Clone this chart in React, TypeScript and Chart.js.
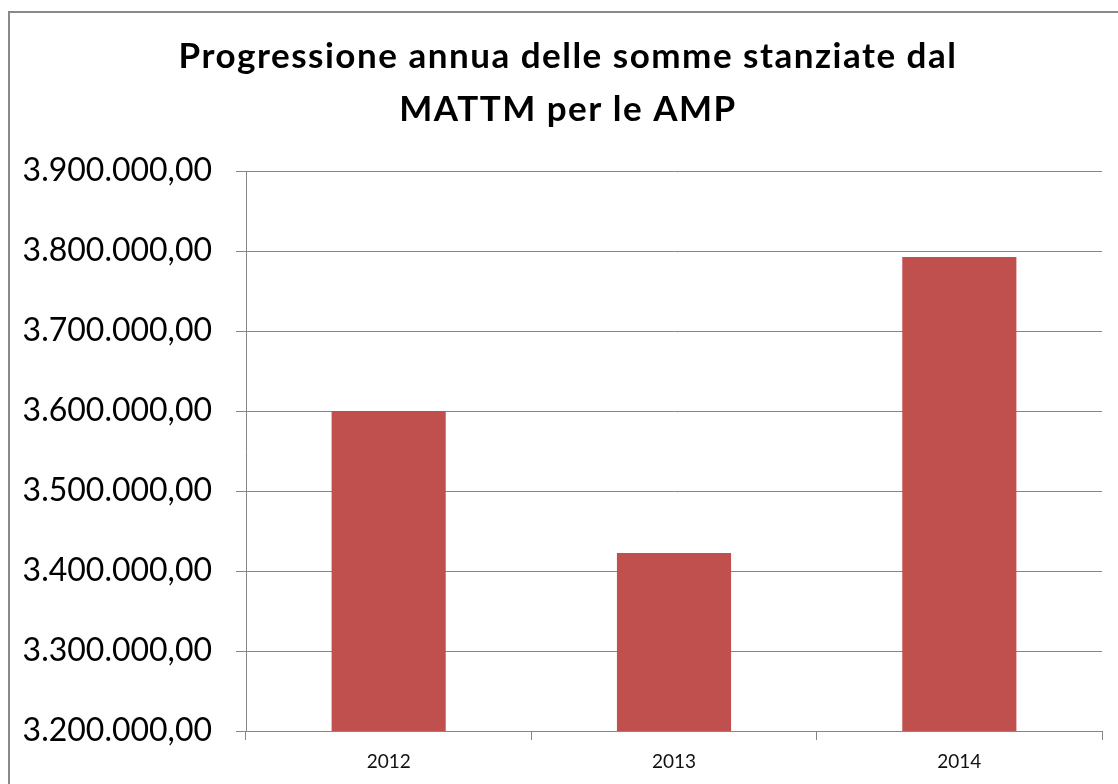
import React, { useEffect, useRef } from "react";
import { Chart, registerables } from "chart.js";

Chart.register(...registerables);

const titleLines = ["Progressione annua delle somme stanziate dal", "MATTM per le AMP"];
const categories = ["2012", "2013", "2014"];
const amounts = [3600000, 3422500, 3792500];
const yMin = 3200000;
const yMax = 3900000;
const yStep = 100000;

function formatIt(v: number): string {
  const intPart = Math.round(v).toString().replace(/\B(?=(\d{3})+(?!\d))/g, ".");
  return intPart + ",00";
}

const titlePlugin = {
  id: "customTitle",
  afterDraw(chart: any) {
    const ctx = chart.ctx;
    ctx.save();
    ctx.fillStyle = "#000";
    ctx.font = "bold 35px Lato";
    (ctx as any).letterSpacing = "1.5px";
    ctx.textAlign = "center";
    ctx.textBaseline = "alphabetic";
    ctx.fillText(titleLines[0], 568, 68);
    ctx.fillText(titleLines[1], 568, 121);
    ctx.restore();
  },
};

export default function App() {
  const ref = useRef<HTMLCanvasElement>(null);
  useEffect(() => {
    if (!ref.current) return;
    const chart = new Chart(ref.current, {
      type: "bar",
      data: {
        labels: categories,
        datasets: [
          {
            data: amounts,
            backgroundColor: "#C0504D",
            borderWidth: 0,
            categoryPercentage: 1,
            barPercentage: 0.4,
          },
        ],
      },
      options: {
        animation: false,
        responsive: false,
        maintainAspectRatio: false,
        layout: { padding: { top: 171, left: 0, right: 16, bottom: 0 } },
        plugins: {
          legend: { display: false },
          title: { display: false },
          tooltip: { enabled: false },
        },
        scales: {
          x: {
            grid: {
              display: true,
              drawOnChartArea: false,
              drawTicks: true,
              tickLength: 9,
              color: "#868686",
              offset: true,
            },
            border: { display: true, color: "#868686", width: 1 },
            ticks: {
              color: "#111",
              font: { family: "Lato", size: 19 },
              padding: 10,
            },
            afterFit(scale: any) {
              scale.height = 53;
            },
          },
          y: {
            min: yMin,
            max: yMax,
            grid: {
              color: "#868686",
              lineWidth: 1,
              drawTicks: true,
              tickLength: 10,
            },
            border: { display: true, color: "#868686", width: 1 },
            ticks: {
              stepSize: yStep,
              color: "#000",
              font: { family: "Lato", size: 32 },
              padding: 24,
              callback: (v: any) => formatIt(Number(v)),
            },
            afterFit(scale: any) {
              scale.width = 246;
            },
          },
        },
      },
      plugins: [titlePlugin],
    });
    return () => chart.destroy();
  }, []);
  return (
    <div style={{ position: "fixed", left: 0, top: 0, width: 1118, height: 784, overflow: "hidden", background: "#fff" }}>
      <div
        style={{
          position: "absolute",
          left: 8,
          top: 11,
          width: 1200,
          height: 900,
          border: "2px solid #898989",
          boxSizing: "border-box",
        }}
      />
      <canvas ref={ref} width={1118} height={784} style={{ position: "absolute", left: 0, top: 0, display: "block" }} />
    </div>
  );
}
